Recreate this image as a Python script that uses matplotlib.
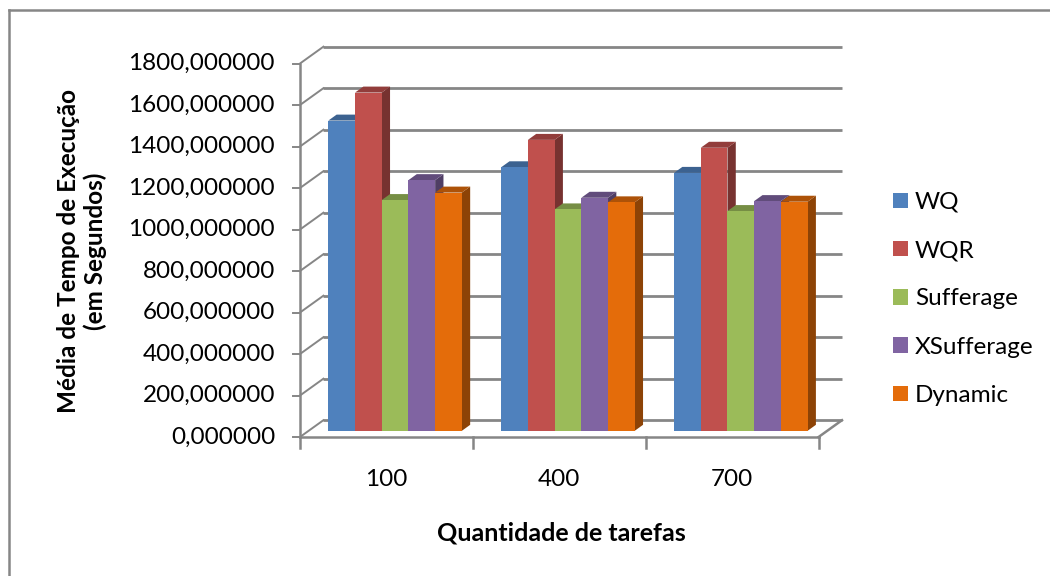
import matplotlib
matplotlib.use("Agg")
import matplotlib.pyplot as plt
from matplotlib.patches import Polygon, Patch
from matplotlib.transforms import ScaledTranslation
import numpy as np

categories = ["100", "400", "700"]
series = ["WQ", "WQR", "Sufferage", "XSufferage", "Dynamic"]
wq = [1495, 1270, 1243]
wqr = [1630, 1402, 1364]
sufferage = [1112, 1067, 1059]
xsufferage = [1208, 1123, 1107]
dynamic = [1148, 1101, 1104]
values = [wq, wqr, sufferage, xsufferage, dynamic]
yticks = [0, 200, 400, 600, 800, 1000, 1200, 1400, 1600, 1800]
ytick_labels = [f"{v},000000" for v in yticks]

colors = ["#4F81BD", "#C0504D", "#9BBB59", "#8064A2", "#E46C0A"]

plt.rcParams['font.family'] = ['Lato', 'DejaVu Sans']

W, H, DPI = 1050, 576, 100
fig = plt.figure(figsize=(W / DPI, H / DPI), dpi=DPI)
ax_l, ax_b, ax_w, ax_h = 300, 139, 518.6, 373.5
ax = fig.add_axes([ax_l / W, ax_b / H, ax_w / W, ax_h / H])
ax.set_xlim(0, len(categories))
ax.set_ylim(0, 1800)
ax.axis('off')

# depth vector (pixels) -> data units
DXp, DYp = 23.4, 16.8
px_x = ax_w / len(categories)
px_y = ax_h / 1800.0
ddx, ddy = DXp / px_x, DYp / px_y


def P(x, y, f):
    return (x + f * ddx, y + f * ddy)


grid_c = "#868686"
glw = 2.0

# back wall gridlines and left wall diagonals
for v, lab in zip(yticks, ytick_labels):
    ax.plot(*zip(P(0, v, 1), P(3, v, 1)), color=grid_c, lw=glw, clip_on=False, zorder=1,
            solid_capstyle='butt')
    ax.plot(*zip(P(0, v, 0), P(0, v, 1)), color=grid_c, lw=1.4, clip_on=False, zorder=1)
    ax.plot([0 - 7 / px_x, 0], [v, v], color=grid_c, lw=1.4, clip_on=False, zorder=1)
    ax.text(0, v, lab, ha='right', va='center', fontsize=17.5, color='black',
            transform=ax.transData + ScaledTranslation(-25 / DPI, 0, fig.dpi_scale_trans))

# front axis line and floor edges
ax.plot([0, 0], [0, 1800], color=grid_c, lw=1.8, clip_on=False, zorder=1)
ax.plot(*zip(P(0, 0, 0), P(3, 0, 0)), color=grid_c, lw=1.8, clip_on=False, zorder=1)
ax.plot(*zip(P(3, 0, 0), P(3, 0, 1)), color=grid_c, lw=1.8, clip_on=False, zorder=1)
for k in range(len(categories) + 1):
    ax.plot([k, k], [0, -11 / px_y], color=grid_c, lw=1.8, clip_on=False, zorder=1)

# category labels
for k, c in enumerate(categories):
    ax.text(k + 0.5, 0, c, ha='center', va='center', fontsize=17.5,
            transform=ax.transData + ScaledTranslation(0, -43 / DPI, fig.dpi_scale_trans))


def shade(c, k):
    rgb = np.array(matplotlib.colors.to_rgb(c))
    return tuple(rgb * k)


w = 0.1545
f0, f1 = 0.37, 0.725
z = 5
for k in range(len(categories)):
    for s in range(len(series)):
        v = values[s][k]
        left = k + 0.5 - 2.5 * w + s * w
        right = left + w
        c = colors[s]
        top = Polygon([P(left, v, f0), P(right, v, f0), P(right, v, f1), P(left, v, f1)],
                      closed=True, facecolor=shade(c, 0.76), edgecolor='none', zorder=z,
                      clip_on=False)
        side = Polygon([P(right, 0, f0), P(right, v, f0), P(right, v, f1), P(right, 0, f1)],
                       closed=True, facecolor=shade(c, 0.62), edgecolor='none', zorder=z,
                       clip_on=False)
        ax.add_patch(side)
        ax.add_patch(top)
        ax.bar(left + f0 * ddx, v, width=w, bottom=f0 * ddy, align='edge', color=c,
               edgecolor='none', zorder=z + 0.5, clip_on=False)
        z += 1

# axis titles
fig.text(82 / W, 1 - 251 / H, "Média de Tempo de Execução\n(em Segundos)", rotation=90,
         ha='center', va='center', fontsize=17.5, fontweight='bold', multialignment='center',
         linespacing=1.2)
fig.text(561 / W, 1 - 533 / H, "Quantidade de tarefas", ha='center', va='center',
         fontsize=18, fontweight='bold')

# legend
handles = [Patch(facecolor=c, edgecolor='none') for c in colors]
leg = fig.legend(handles, series, loc='upper left', bbox_to_anchor=(893 / W, 1 - 192 / H),
                 frameon=False, fontsize=17.5, handlelength=0.6, handleheight=0.6,
                 handletextpad=0.3, labelspacing=1.12, borderaxespad=0, borderpad=0)

# outer border (top and left only visible)
fig.add_artist(plt.Line2D([8.5 / W, 8.5 / W], [0, 1 - 9.5 / H], color=grid_c, lw=1.8,
                          transform=fig.transFigure))
fig.add_artist(plt.Line2D([8.5 / W, 1], [1 - 9.5 / H, 1 - 9.5 / H], color=grid_c, lw=1.8,
                          transform=fig.transFigure))

fig.savefig("out.png", dpi=DPI)
